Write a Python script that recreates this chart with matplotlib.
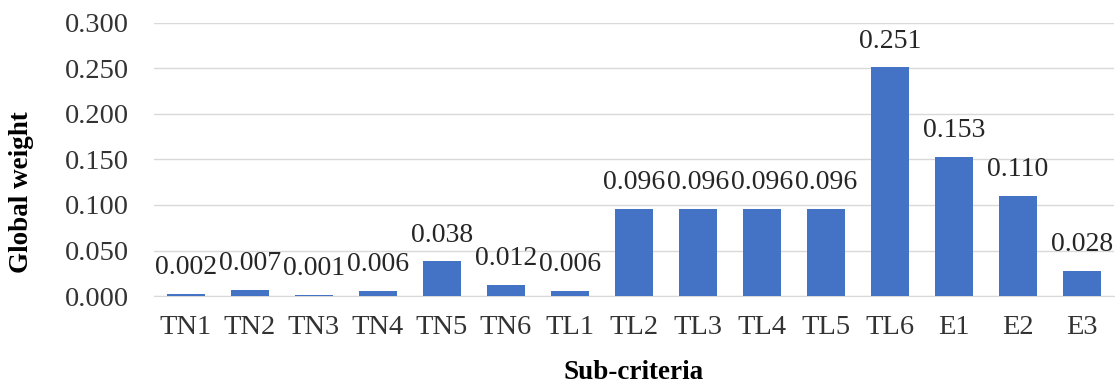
import matplotlib.pyplot as plt

# sub-criteria and their global weights
categories = ["TN1", "TN2", "TN3", "TN4", "TN5", "TN6", "TL1",
              "TL2", "TL3", "TL4", "TL5", "TL6", "E1", "E2", "E3"]
weights = [0.002, 0.007, 0.001, 0.006, 0.038, 0.012, 0.006,
           0.096, 0.096, 0.096, 0.096, 0.251, 0.153, 0.110, 0.028]
yticks = [0.0, 0.05, 0.10, 0.15, 0.20, 0.25, 0.30]

plt.rcParams['font.family'] = ['Liberation Serif', 'DejaVu Serif']

fig = plt.figure(figsize=(11.15, 3.87), dpi=100)
ax = fig.add_axes([0.138, 0.235, 0.861, 0.706])

x = range(len(categories))
bars = ax.bar(x, weights, width=0.6, color="#4472C4", zorder=3)

for b, v in zip(bars, weights):
    ax.annotate(f"{v:.3f}", (b.get_x() + b.get_width() / 2, v),
                xytext=(0, 10), textcoords="offset points",
                ha="center", va="bottom", fontsize=20, color="#262626")

ax.set_xlim(-0.5, len(categories) - 0.5)
ax.set_ylim(0, 0.30)
ax.set_yticks(yticks)
ax.set_yticklabels([f"{t:.3f}" for t in yticks])
ax.set_xticks(list(x))
ax.set_xticklabels(categories)
ax.tick_params(axis="both", length=0, labelsize=20.5, colors="#333333")
ax.tick_params(axis="x", pad=14)
ax.tick_params(axis="y", pad=18)

ax.grid(axis="y", color="#D9D9D9", linewidth=1, zorder=0)
for s in ["top", "right", "left"]:
    ax.spines[s].set_visible(False)
ax.spines["bottom"].set_color("#D9D9D9")

ax.set_xlabel("Sub-criteria", fontsize=19.5, fontweight="bold", va="center")
ax.xaxis.set_label_coords(0.5, -0.278)
ax.set_ylabel("Global weight", fontsize=19.5, fontweight="bold", va="center")
ax.yaxis.set_label_coords(-0.1375, 0.38)

fig.savefig("out.png", dpi=100)
